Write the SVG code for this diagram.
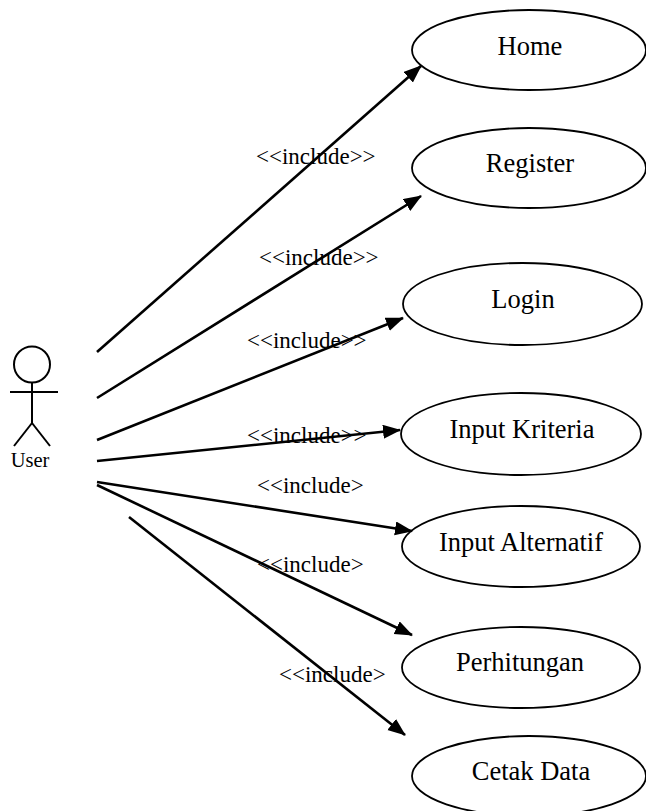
<svg xmlns="http://www.w3.org/2000/svg" width="646" height="811" viewBox="0 0 646 811">
<style>
.uc{fill:#fff;stroke:#000;stroke-width:1.8}
.nt{font-family:"Liberation Serif","Times New Roman",serif;font-size:26.5px;fill:#000;text-anchor:middle}
.lb{font-family:"Liberation Serif","Times New Roman",serif;font-size:23px;fill:#000}
.ln{stroke:#000;stroke-width:2.6;fill:none;marker-end:url(#ah)}
.ac{stroke:#000;stroke-width:2;fill:none}
</style>
<defs>
<marker id="ah" markerUnits="userSpaceOnUse" markerWidth="20" markerHeight="16" refX="17" refY="7" orient="auto">
<path d="M0,0 L18,7 L0,14 z" fill="#000"/>
</marker>
</defs>
<rect width="646" height="811" fill="#fff"/>
<g id="actor-user">
<circle class="ac" cx="32" cy="364.5" r="18"/>
<line class="ac" x1="10" y1="392" x2="58" y2="392"/>
<line class="ac" x1="32" y1="383" x2="32" y2="423"/>
<line class="ac" x1="32" y1="423" x2="14" y2="446"/>
<line class="ac" x1="32" y1="423" x2="50" y2="446"/>
<text x="30" y="467" style="font-family:'Liberation Serif','Times New Roman',serif;font-size:20.5px;text-anchor:middle">User</text>
</g>
<g id="uc-home"><ellipse class="uc" cx="529" cy="50" rx="117" ry="40"/><text class="nt" x="530" y="55">Home</text></g>
<g id="uc-register"><ellipse class="uc" cx="529" cy="168" rx="117" ry="40"/><text class="nt" x="530" y="172">Register</text></g>
<g id="uc-login"><ellipse class="uc" cx="522.5" cy="304" rx="119.5" ry="41"/><text class="nt" x="523" y="308">Login</text></g>
<g id="uc-input-kriteria"><ellipse class="uc" cx="521" cy="434" rx="120" ry="41"/><text class="nt" x="522" y="438">Input Kriteria</text></g>
<g id="uc-input-alternatif"><ellipse class="uc" cx="521" cy="546.5" rx="119" ry="40.5"/><text class="nt" x="521" y="551">Input Alternatif</text></g>
<g id="uc-perhitungan"><ellipse class="uc" cx="521" cy="667.5" rx="119" ry="40.5"/><text class="nt" x="520" y="671">Perhitungan</text></g>
<g id="uc-cetak-data"><ellipse class="uc" cx="529" cy="776" rx="117" ry="40"/><text class="nt" x="531" y="780">Cetak Data</text></g>
<g id="connectors">
<line class="ln" x1="97" y1="352" x2="421" y2="66"/>
<line class="ln" x1="97" y1="398" x2="421" y2="196"/>
<line class="ln" x1="97" y1="440" x2="403" y2="318"/>
<line class="ln" x1="97" y1="461" x2="400" y2="430"/>
<line class="ln" x1="97" y1="482" x2="412" y2="531"/>
<line class="ln" x1="97" y1="485" x2="412" y2="635"/>
<line class="ln" x1="129" y1="517" x2="405" y2="735"/>
<text class="lb" x="256" y="164">&lt;&lt;include&gt;&gt;</text>
<text class="lb" x="259" y="265">&lt;&lt;include&gt;&gt;</text>
<text class="lb" x="247" y="348">&lt;&lt;include&gt;&gt;</text>
<text class="lb" x="247" y="443">&lt;&lt;include&gt;&gt;</text>
<text class="lb" x="257" y="493">&lt;&lt;include&gt;</text>
<text class="lb" x="257" y="572">&lt;&lt;include&gt;</text>
<text class="lb" x="279" y="682">&lt;&lt;include&gt;</text>
</g>
</svg>
